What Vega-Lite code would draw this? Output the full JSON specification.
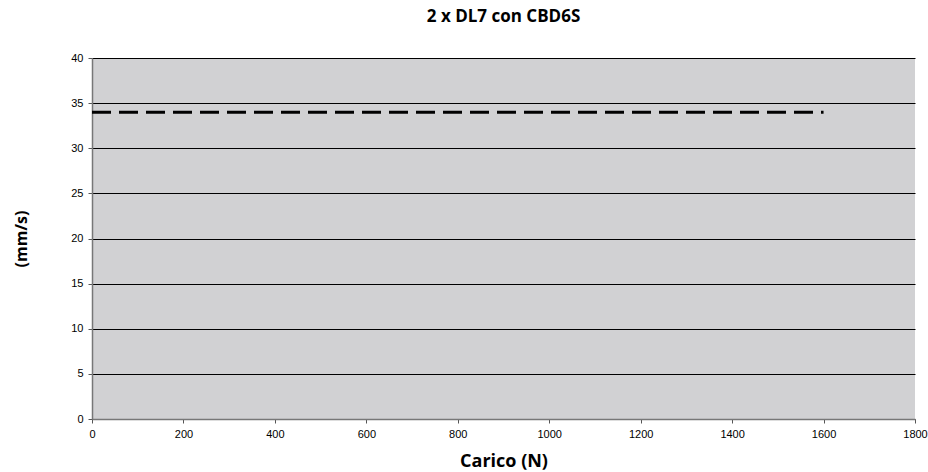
{
  "$schema": "https://vega.github.io/schema/vega-lite/v6.json",
  "width": 823,
  "height": 361,
  "autosize": {"type": "none"},
  "padding": {"left": 92, "top": 58, "right": 13, "bottom": 53},
  "background": "white",
  "title": {
    "text": "2 x DL7 con CBD6S",
    "font": "Open Sans",
    "fontSize": 17,
    "fontWeight": "bold",
    "color": "#000",
    "anchor": "middle",
    "offset": 26
  },
  "data": {
    "values": [
      {"carico": 0, "velocita": 34},
      {"carico": 1600, "velocita": 34}
    ]
  },
  "mark": {"type": "line", "color": "#000", "strokeWidth": 3, "strokeDash": [19, 8]},
  "encoding": {
    "x": {
      "field": "carico",
      "type": "quantitative",
      "scale": {"domain": [0, 1800], "nice": false},
      "axis": {
        "title": "Carico (N)",
        "format": "d",
        "values": [0, 200, 400, 600, 800, 1000, 1200, 1400, 1600, 1800],
        "grid": false,
        "labelFlush": false,
        "domainColor": "#777",
        "domainWidth": 1.5,
        "tickColor": "#555",
        "tickSize": 4,
        "labelPadding": 5,
        "labelFont": "Liberation Sans",
        "labelFontSize": 11,
        "labelColor": "#000",
        "titleFont": "Open Sans",
        "titleFontSize": 18,
        "titleFontWeight": "bold",
        "titleColor": "#000",
        "titlePadding": 13
      }
    },
    "y": {
      "field": "velocita",
      "type": "quantitative",
      "scale": {"domain": [0, 40], "nice": false},
      "axis": {
        "title": "(mm/s)",
        "format": "d",
        "values": [0, 5, 10, 15, 20, 25, 30, 35, 40],
        "grid": true,
        "labelFlush": false,
        "gridColor": "#000",
        "gridWidth": 1,
        "gridOpacity": 1,
        "domainColor": "#777",
        "domainWidth": 1.5,
        "tickColor": "#555",
        "tickSize": 4,
        "labelPadding": 5,
        "labelFont": "Liberation Sans",
        "labelFontSize": 11,
        "labelColor": "#000",
        "titleFont": "Open Sans",
        "titleFontSize": 16,
        "titleFontWeight": "bold",
        "titleColor": "#000",
        "titlePadding": 41
      }
    }
  },
  "config": {
    "view": {"fill": "#d1d1d3", "stroke": null}
  }
}
